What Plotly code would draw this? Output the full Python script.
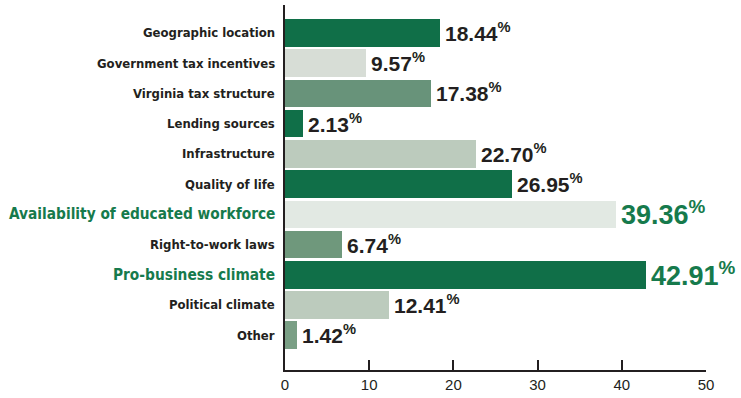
import plotly.graph_objects as go

# Survey responses: factors behind business location decisions (percent)
factors = [
    "Geographic location",
    "Government tax incentives",
    "Virginia tax structure",
    "Lending sources",
    "Infrastructure",
    "Quality of life",
    "Availability of educated workforce",
    "Right-to-work laws",
    "Pro-business climate",
    "Political climate",
    "Other",
]
shares = [18.44, 9.57, 17.38, 2.13, 22.70, 26.95, 39.36, 6.74, 42.91, 12.41, 1.42]
highlighted = [False, False, False, False, False, False, True, False, True, False, False]

bar_colors = [
    "#106f48", "#d7ddd6", "#68937a", "#106f48", "#bccbbd", "#106f48",
    "#e2e9e3", "#6f987c", "#106f48", "#bccbbd", "#7a9f85",
]
x_ticks = [0, 10, 20, 30, 40, 50]

DARK = "#231f20"
GREEN = "#167a4c"
LABEL_FONT = "DejaVu Sans Condensed, Roboto, sans-serif"
VALUE_FONT = "Liberation Sans, Arial, sans-serif"

pos = list(range(len(factors)))

fig = go.Figure(
    go.Bar(
        x=shares,
        y=pos,
        orientation="h",
        marker=dict(color=bar_colors, line=dict(width=0)),
        width=0.91,
        hoverinfo="skip",
    )
)

annotations = []
for i, (name, val, hi) in enumerate(zip(factors, shares, highlighted)):
    # category label to the left of the axis
    annotations.append(dict(
        x=0, xref="paper", y=i, yref="y",
        text=f"<b>{name}</b>",
        xanchor="right", yanchor="middle", xshift=-8, showarrow=False,
        font=dict(family=LABEL_FONT, size=15.3 if hi else 13, color=GREEN if hi else DARK),
    ))
    # value label at the end of the bar
    annotations.append(dict(
        x=val, xref="x", y=i, yref="y",
        text=f"<b>{val:.2f}<sup>%</sup></b>",
        xanchor="left", yanchor="middle", xshift=3, yshift=1, showarrow=False,
        font=dict(family=VALUE_FONT, size=27 if hi else 21, color=GREEN if hi else DARK),
    ))

fig.update_layout(
    width=741, height=398,
    margin=dict(l=285, r=35, t=5, b=25),
    paper_bgcolor="white", plot_bgcolor="white",
    showlegend=False,
    bargap=0,
    annotations=annotations,
    xaxis=dict(
        range=[0, 50], tickvals=x_ticks, ticktext=[str(t) for t in x_ticks],
        showgrid=False, zeroline=False,
        showline=True, linecolor=DARK, linewidth=2,
        ticks="inside", ticklen=10, tickwidth=2, tickcolor=DARK,
        tickfont=dict(family=VALUE_FONT, size=15, color=DARK),
        fixedrange=True,
    ),
    yaxis=dict(
        range=[11.15, -0.92], showticklabels=False, showgrid=False, zeroline=False,
        showline=True, linecolor=DARK, linewidth=2, ticks="",
        fixedrange=True,
    ),
)

fig.write_html("out.html")
